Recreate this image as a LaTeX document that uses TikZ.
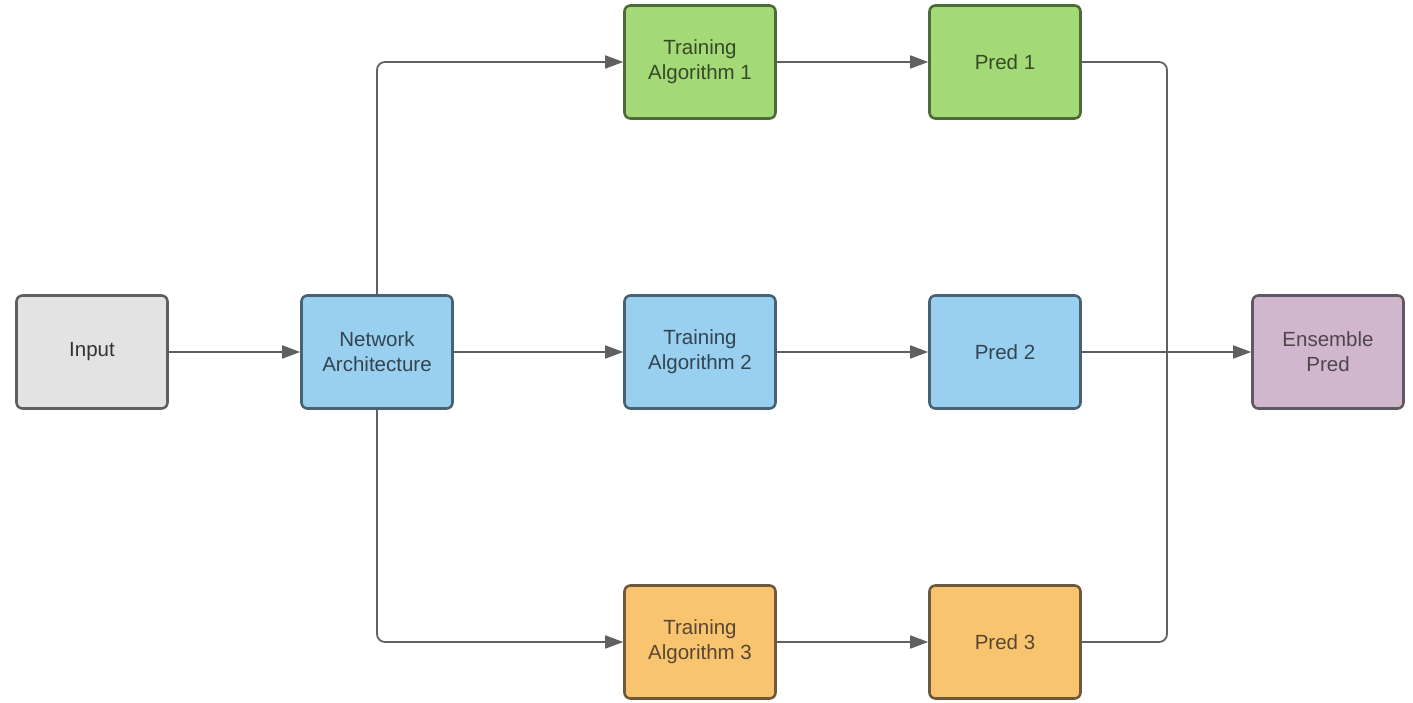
\documentclass[tikz,border=0pt]{standalone}
\usepackage{fontspec}
\setmainfont{Liberation Sans}
\usetikzlibrary{arrows.meta}

\definecolor{grayfill}{RGB}{227,227,227}
\definecolor{grayline}{RGB}{95,95,95}
\definecolor{bluefill}{RGB}{153,207,239}
\definecolor{blueline}{RGB}{72,98,116}
\definecolor{greenfill}{RGB}{163,217,119}
\definecolor{greenline}{RGB}{78,106,56}
\definecolor{orangefill}{RGB}{248,196,111}
\definecolor{orangeline}{RGB}{112,88,60}
\definecolor{purplefill}{RGB}{209,183,206}
\definecolor{purpleline}{RGB}{96,88,96}
\definecolor{wire}{RGB}{96,96,96}

\tikzset{
  block/.style={draw, rounded corners=6pt, line width=2.6pt, minimum width=151pt,
    minimum height=113pt, align=center, font=\fontsize{20.5}{25}\selectfont},
  grayblock/.style={block, fill=grayfill, draw=grayline, text=black!80},
  blueblock/.style={block, fill=bluefill, draw=blueline, text=blueline!70!black},
  greenblock/.style={block, fill=greenfill, draw=greenline, text=greenline!70!black},
  orangeblock/.style={block, fill=orangefill, draw=orangeline, text=orangeline!80!black},
  purpleblock/.style={block, fill=purplefill, draw=purpleline, text=purpleline!80!black},
  link/.style={draw=wire, line width=1.8pt, rounded corners=8pt},
  arrow/.style={link, -{Triangle[length=18pt,width=13pt]}}
}

\begin{document}
\begin{tikzpicture}[x=1pt, y=1pt]
	\useasboundingbox (0,0) rectangle (1413,703);
	% first column
	\node[grayblock] (input) at (92,351) {Input};
	\node[blueblock] (arch) at (377,351) {Network\\Architecture};
	% training algorithms
	\node[greenblock] (train1) at (700,641) {Training\\Algorithm 1};
	\node[blueblock] (train2) at (700,351) {Training\\Algorithm 2};
	\node[orangeblock] (train3) at (700,61) {Training\\Algorithm 3};
	% predictions
	\node[greenblock] (pred1) at (1005,641) {Pred 1};
	\node[blueblock] (pred2) at (1005,351) {Pred 2};
	\node[orangeblock] (pred3) at (1005,61) {Pred 3};
	\node[purpleblock] (ens) at (1328,351) {Ensemble\\Pred};
	\coordinate (merge) at (1167,351);
	% connectors
	\draw[arrow] (input) -- (arch);
	\draw[arrow] (arch.north) |- (train1.west);
	\draw[arrow] (arch) -- (train2);
	\draw[arrow] (arch.south) |- (train3.west);
	\foreach \i in {1,2,3} {\draw[arrow] (train\i) -- (pred\i);}
	\draw[link] (pred1.east) -| (merge);
	\draw[link] (pred3.east) -| (merge);
	\draw[arrow] (pred2) -- (ens);
\end{tikzpicture}
\end{document}
